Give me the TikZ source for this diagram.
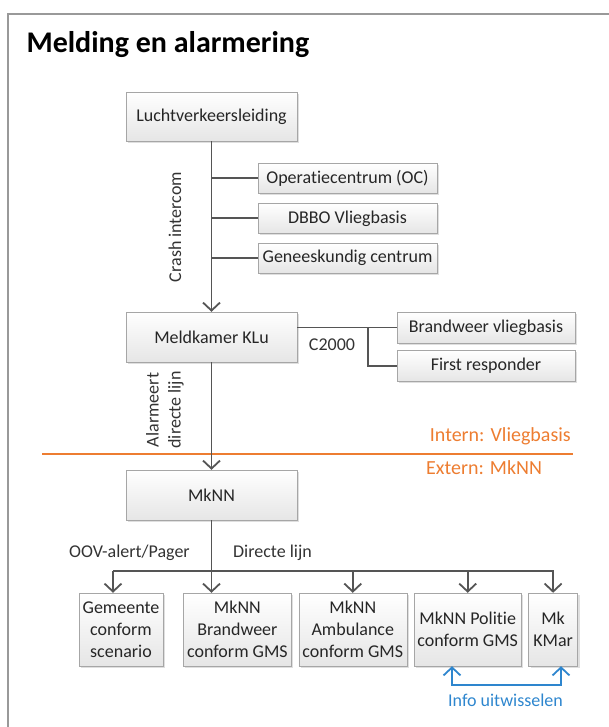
\documentclass[tikz,border=0pt]{standalone}
\usepackage{fontspec}
\setmainfont{Carlito}[Ligatures=NoCommon]
\usepackage{xcolor}
\usetikzlibrary{arrows.meta,positioning,shadows}
\definecolor{lijn}{HTML}{555555}
\definecolor{kader}{HTML}{A6A6A6}
\definecolor{oranje}{HTML}{ED7D31}
\definecolor{infoblauw}{HTML}{2E86CE}

\begin{document}
\begin{tikzpicture}[x=1pt,y=-1pt,>={Straight Barb[length=8pt,width=17pt]},
            font=\fontsize{18}{22}\selectfont,
            blok/.style={draw=kader,top color=white,bottom color=black!10,text=black!85,
              align=center,inner xsep=1pt,inner ysep=1pt,
              drop shadow={shadow xshift=2pt,shadow yshift=-2pt,opacity=0.25}},
            hoofd/.style={blok,minimum width=171,minimum height=49},
            zij/.style={blok,minimum width=179,minimum height=30},
            onder/.style={blok,minimum height=73},
            verb/.style={draw=lijn,line width=1.8pt},
            pijl/.style={verb,->},
            info/.style={draw=infoblauw,line width=1.8pt,<->},
            lbl/.style={text=black!80,inner sep=0pt}]
            \useasboundingbox (0,0) rectangle (609,727);
            \draw[black!40,line width=1.5pt] (609,14) -- (8,14) -- (8,727);
            \node[font=\bfseries\fontsize{30}{36}\selectfont,anchor=base west] (titel) at (23,53) {Melding en alarmering};

            \node[hoofd] (lvl) at (211.5,116.5) {Luchtverkeersleiding};
            \node[zij] (oc) at (347.5,178) {Operatiecentrum (OC)};
            \node[zij] (dbbo) [below=10pt of oc] {DBBO Vliegbasis};
            \node[zij] (gen) [below=9pt of dbbo] {Geneeskundig centrum};
            \node[hoofd,minimum height=50] (mkl) at (211.5,337) {Meldkamer KLu};
            \node[zij,minimum width=178,minimum height=31] (bwv) at (486,327.5) {Brandweer vliegbasis};
            \node[zij,minimum width=178,minimum height=31] (fr) [below=7pt of bwv] {First responder};
            \node[hoofd,minimum height=50] (mknn) at (211.5,495) {MkNN};

            \node[onder,minimum width=84] (gem) at (121,629.5) {Gemeente\\conform\\scenario};
            \node[onder,minimum width=108] (bw) [right=20pt of gem] {MkNN\\Brandweer\\conform GMS};
            \node[onder,minimum width=108] (amb) [right=7pt of bw] {MkNN\\Ambulance\\conform GMS};
            \node[onder,minimum width=107] (pol) [right=7pt of amb] {MkNN Politie\\conform GMS};
            \node[onder,minimum width=49] (kmar) [right=7pt of pol] {Mk\\KMar};

            % Luchtverkeersleiding
            \draw[pijl] (lvl) -- (mkl);
            \node[lbl,rotate=90] (crash) at (175,227) {Crash intercom};
            \foreach \doel in {oc,dbbo,gen}
              \draw[verb] (lvl.south |- \doel) -- (\doel);

            % Meldkamer KLu
            \coordinate (split) at (368,327.5);
            \draw[verb] (mkl.east |- bwv) -- (bwv);
            \draw[verb] (split) |- (fr);
            \node[lbl] (c2000) at (332,345) {C2000};

            % Intern / extern
            \coordinate (sepl) at (42,454);
            \coordinate (sepr) at (573,454);
            \draw[oranje,line width=1.8pt] (sepl) -- (sepr);
            \node[text=oranje,anchor=east,inner sep=0pt,font=\fontsize{20}{24}\selectfont] (intern) at (571,436) {Intern: Vliegbasis};
            \node[text=oranje,anchor=west,inner sep=0pt,font=\fontsize{20}{24}\selectfont] (extern) at (426,468) {Extern: MkNN};
            \draw[pijl] (mkl) -- (mknn);
            \node[lbl,rotate=90,align=center] (alarm) at (165,410) {Alarmeert\\directe lijn};

            % MkNN
            \coordinate (bus) at (113,571);
            \draw[pijl] (bus) -| (kmar.north);
            \draw[pijl] (bus) -- (bus |- gem.north);
            \draw[pijl] (mknn.south) -- (mknn.south |- bw.north);
            \foreach \doel in {amb,pol}
              \draw[pijl] (bus -| \doel) -- (\doel.north);
            \node[lbl] (oov) at (129.5,553) {OOV-alert/Pager};
            \node[lbl] (direct) at (272.5,553) {Directe lijn};

            % Info uitwisselen
            \coordinate (infol) at (452,685);
            \coordinate (infor) at (561,685);
            \draw[info] (infol |- pol.south) -- (infol) -- (infor) -- (infor |- kmar.south);
            \node[text=infoblauw,inner sep=0pt] (infotxt) at (505.5,700) {Info uitwisselen};
        \end{tikzpicture}
\end{document}
